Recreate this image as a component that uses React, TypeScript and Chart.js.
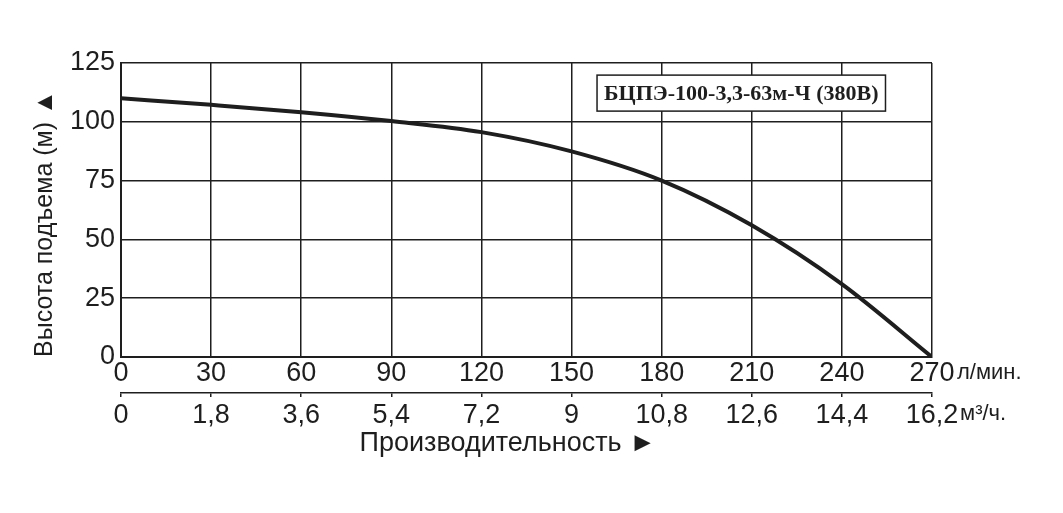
import React, { useEffect, useRef } from "react";
import { Chart, registerables } from "chart.js";

Chart.register(...registerables);

const flowLpm = [0, 30, 60, 90, 120, 150, 180, 210, 240, 270];
const headM = [110, 107.2, 104.1, 100.3, 95.6, 87.4, 75, 56, 31, 0];
const m3hLabels = ["0", "1,8", "3,6", "5,4", "7,2", "9", "10,8", "12,6", "14,4", "16,2"];
const modelLabel = "БЦПЭ-100-3,3-63м-Ч (380В)";
const unitLpm = "л/мин.";
const unitM3h = "м³/ч.";
const yTitle = "Высота подъема (м) ▲";
const xTitle = "Производительность ►\u00A0\u00A0\u00A0\u00A0\u00A0";

const INK = "#1e1e1e";
const SANS = "Arial, 'Liberation Sans', sans-serif";

const overlayPlugin = {
  id: "overlay",
  afterDraw(chart: any) {
    const { ctx, scales } = chart;
    const x = scales.x;
    const y = scales.y;
    ctx.save();
    // model label box
    ctx.font = "bold 22px 'Liberation Serif', 'Times New Roman', serif";
    const tw = ctx.measureText(modelLabel).width;
    const cx = x.getPixelForValue(206.5);
    const cy = y.getPixelForValue(112.2);
    const bw = tw + 14;
    const bh = 36;
    ctx.fillStyle = "#ffffff";
    ctx.fillRect(cx - bw / 2, cy - bh / 2, bw, bh);
    ctx.strokeStyle = INK;
    ctx.lineWidth = 1.5;
    ctx.strokeRect(cx - bw / 2, cy - bh / 2, bw, bh);
    ctx.fillStyle = INK;
    ctx.textAlign = "center";
    ctx.textBaseline = "middle";
    ctx.fillText(modelLabel, cx, cy + 1);
    // unit labels
    ctx.font = "22px " + SANS;
    ctx.textAlign = "left";
    const xr = x.getPixelForValue(270);
    ctx.fillText(unitLpm, xr + 25, 373);
    ctx.fillText(unitM3h, xr + 28, 414);
    ctx.restore();
  },
};

export default function App() {
  const ref = useRef<HTMLCanvasElement>(null);
  useEffect(() => {
    document.body.style.margin = "0";
    const chart = new Chart(ref.current!, {
      type: "line",
      data: {
        datasets: [
          {
            data: flowLpm.map((f, i) => ({ x: f, y: headM[i] })),
            borderColor: INK,
            borderWidth: 4,
            pointRadius: 0,
            cubicInterpolationMode: "monotone",
            fill: false,
          },
        ],
      },
      options: {
        animation: false,
        responsive: true,
        maintainAspectRatio: false,
        layout: { padding: { top: 63, right: 131, bottom: 50, left: 0 } },
        plugins: { legend: { display: false }, tooltip: { enabled: false } },
        scales: {
          x: {
            type: "linear",
            position: "bottom",
            min: 0,
            max: 270,
            weight: 0,
            afterFit: (s: any) => {
              s.height = 36;
            },
            ticks: {
              stepSize: 30,
              padding: 0,
              color: INK,
              font: { family: SANS, size: 27 },
              maxRotation: 0,
              autoSkip: false,
            },
            grid: { color: INK, lineWidth: 1.5, drawTicks: false },
            border: { color: INK, width: 2 },
          },
          x2: {
            type: "linear",
            position: "bottom",
            min: 0,
            max: 270,
            weight: 1,
            afterFit: (s: any) => {
              s.height = 70;
            },
            ticks: {
              stepSize: 30,
              padding: 2,
              color: INK,
              font: { family: SANS, size: 27 },
              maxRotation: 0,
              autoSkip: false,
              callback: (_v: any, i: number) => m3hLabels[i],
            },
            grid: { drawOnChartArea: false, color: INK, lineWidth: 1.5, tickLength: 4 },
            border: { color: INK, width: 1.5 },
            title: {
              display: true,
              text: xTitle,
              color: INK,
              font: { family: SANS, size: 27 },
              padding: { top: 0, bottom: 3 },
            },
          },
          y: {
            min: 0,
            max: 125,
            afterFit: (s: any) => {
              s.width = 121;
            },
            ticks: {
              stepSize: 25,
              padding: 6,
              color: INK,
              font: { family: SANS, size: 27 },
            },
            grid: { color: INK, lineWidth: 1.5, drawTicks: false },
            border: { color: INK, width: 2 },
            title: {
              display: true,
              text: yTitle,
              align: "start",
              color: INK,
              font: { family: SANS, size: 25 },
              padding: { top: 30, bottom: 0 },
            },
          },
        },
      },
      plugins: [overlayPlugin],
    } as any);
    return () => chart.destroy();
  }, []);
  return (
    <div style={{ position: "fixed", left: 0, top: 0, width: 1063, height: 513, background: "#fff" }}>
      <canvas ref={ref} />
    </div>
  );
}
